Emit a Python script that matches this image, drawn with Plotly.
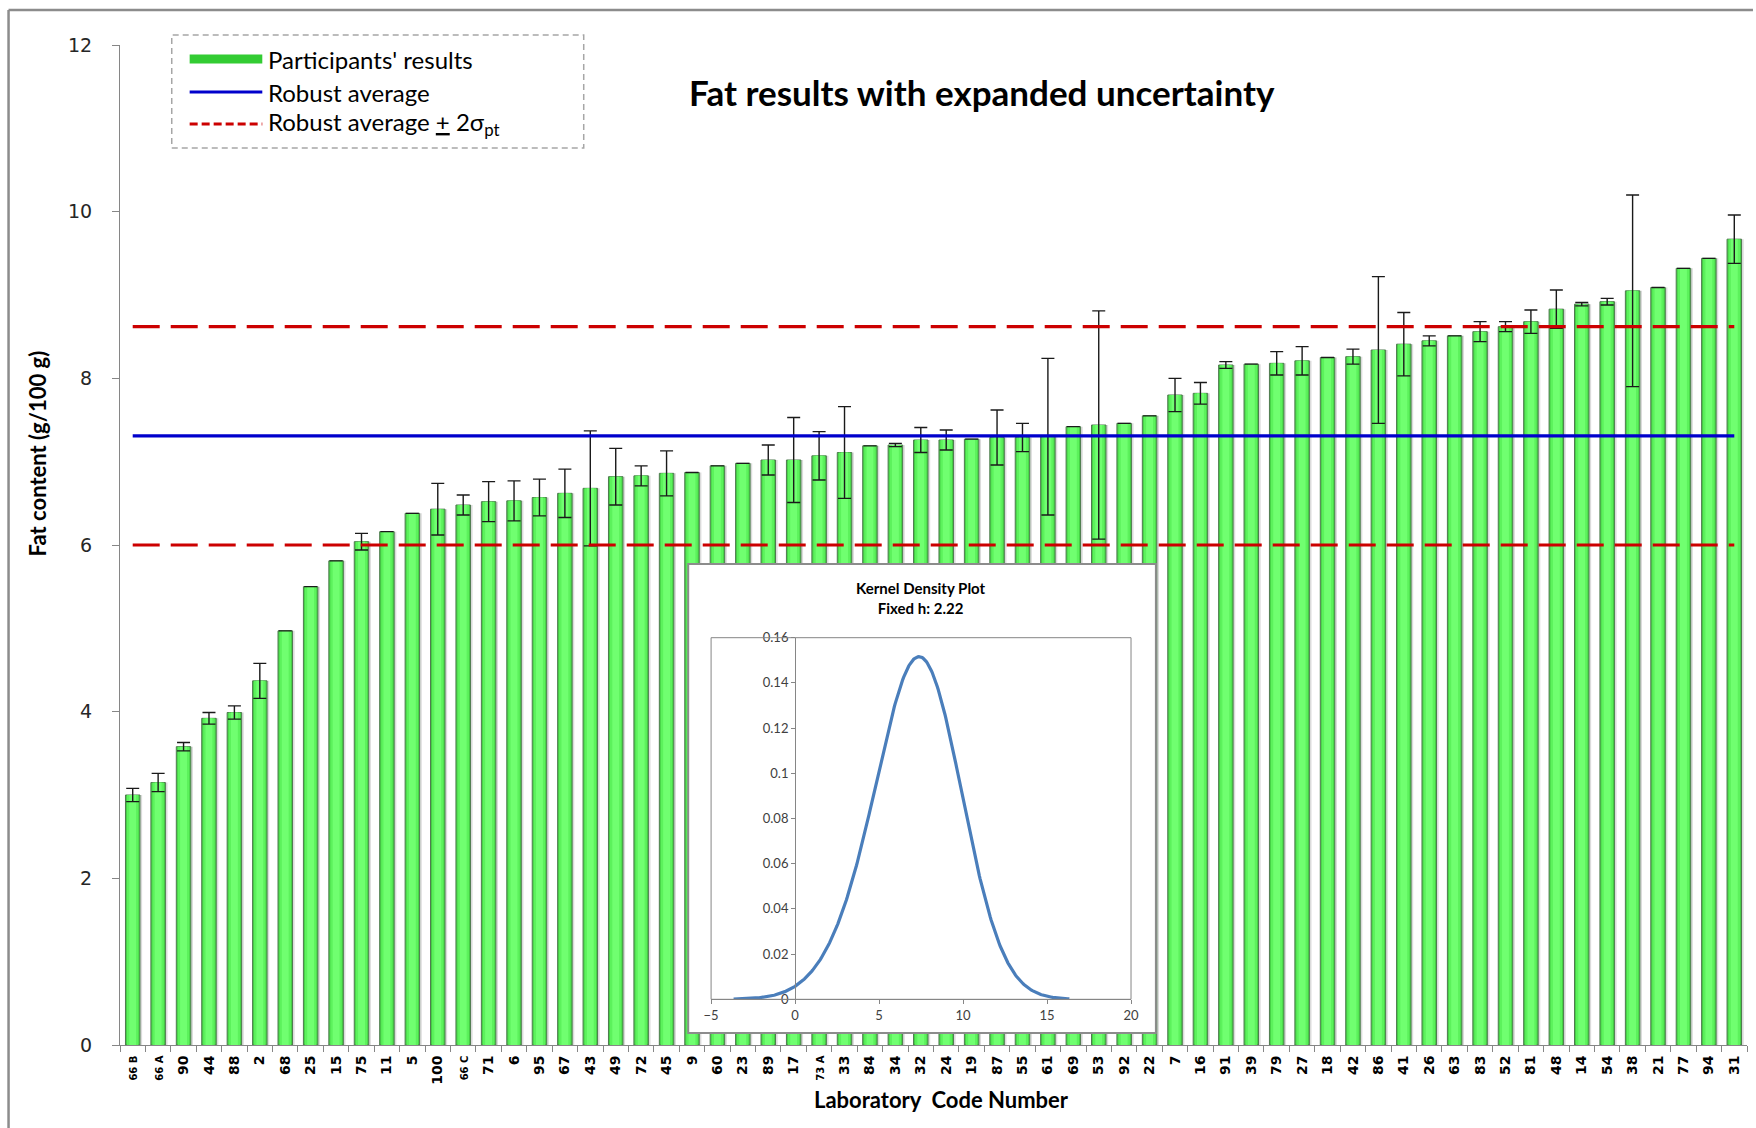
import numpy as np
import plotly.graph_objects as go

# Laboratory codes, ordered by reported result
labs = ["66 B", "66 A", "90", "44", "88", "2", "68", "25", "15", "75",
        "11", "5", "100", "66 C", "71", "6", "95", "67", "43", "49",
        "72", "45", "9", "60", "23", "89", "17", "73 A", "33", "84",
        "34", "32", "24", "19", "87", "55", "61", "69", "53", "92",
        "22", "7", "16", "91", "39", "79", "27", "18", "42", "86",
        "41", "26", "63", "83", "52", "81", "48", "14", "54", "38",
        "21", "77", "94", "31"]

# Reported fat content (g/100 g)
fat = [3.00, 3.15, 3.58, 3.92, 3.99, 4.37, 4.97, 5.50, 5.81, 6.04,
       6.16, 6.38, 6.43, 6.48, 6.52, 6.53, 6.57, 6.62, 6.68, 6.82,
       6.83, 6.86, 6.87, 6.95, 6.98, 7.02, 7.02, 7.07, 7.11, 7.19,
       7.20, 7.26, 7.26, 7.27, 7.29, 7.29, 7.30, 7.42, 7.44, 7.46,
       7.55, 7.80, 7.82, 8.16, 8.17, 8.18, 8.21, 8.25, 8.26, 8.34,
       8.41, 8.45, 8.51, 8.56, 8.62, 8.68, 8.83, 8.89, 8.92, 9.05,
       9.09, 9.32, 9.44, 9.67]

# Expanded uncertainty reported by each laboratory
unc = [0.08, 0.11, 0.05, 0.07, 0.08, 0.21, 0.00, 0.00, 0.00, 0.10,
       0.00, 0.00, 0.31, 0.12, 0.24, 0.24, 0.22, 0.29, 0.69, 0.34,
       0.12, 0.27, 0.00, 0.00, 0.00, 0.18, 0.51, 0.29, 0.55, 0.00,
       0.02, 0.15, 0.12, 0.00, 0.33, 0.17, 0.94, 0.00, 1.37, 0.00,
       0.00, 0.20, 0.13, 0.04, 0.00, 0.14, 0.17, 0.00, 0.09, 0.88,
       0.38, 0.06, 0.00, 0.12, 0.06, 0.14, 0.23, 0.02, 0.04, 1.15,
       0.00, 0.00, 0.00, 0.29]

robust_avg = 7.31
lower_limit = 6.00
upper_limit = 8.62

y_ticks = [0, 2, 4, 6, 8, 10, 12]

# kernel density of the results, fixed bandwidth
kde_h = 2.22
kde_x_ticks = [-5, 0, 5, 10, 15, 20]
kde_y_ticks = [0, 0.02, 0.04, 0.06, 0.08, 0.10, 0.12, 0.14, 0.16]
kde_y_text = ["0", "0.02", "0.04", "0.06", "0.08", "0.1", "0.12", "0.14", "0.16"]

vals = np.array(fat)
kx = np.linspace(vals.min() - 3 * kde_h, vals.max() + 3 * kde_h, 400)
kz = (kx[:, None] - vals[None, :]) / kde_h
ky = np.exp(-0.5 * kz ** 2).sum(axis=1) / (len(vals) * kde_h * np.sqrt(2 * np.pi))

# ---- page geometry (pixels) ----
W, H = 1756, 1128
L, R, T, B = 120, 1, 45, 83
PW = W - L - R
PH = H - T - B


def px(x):
    return (x - L) / PW


def py(y):
    return (H - B - y) / PH


def tick_label(s):
    if " " in s:
        return "<span style='font-size:10px'>" + s + "</span>"
    return s


n = len(labs)
fig = go.Figure()

# soft shadow to the right of each bar
fig.add_trace(go.Bar(x=labs, y=fat, width=0.56, offset=-0.19,
                     marker=dict(color="rgba(0,0,0,0.14)", line=dict(width=0)),
                     hoverinfo="skip", showlegend=False))
# bar body with darker edges
fig.add_trace(go.Bar(x=labs, y=fat, width=0.57, offset=-0.285,
                     marker=dict(color="#46d046", line=dict(color="#4f7a4f", width=1)),
                     showlegend=False, name="Participants' results"))
fig.add_trace(go.Bar(x=labs, y=fat, width=0.45, offset=-0.225,
                     marker=dict(color="#5cf25c", line=dict(width=0)),
                     hoverinfo="skip", showlegend=False))
# bright core of the bar, carrying the uncertainty bars
fig.add_trace(go.Bar(x=labs, y=fat, width=0.27, offset=-0.135,
                     marker=dict(color="#70ff70", line=dict(width=0)),
                     error_y=dict(type="data", array=unc, visible=True,
                                  color="#1a1a1a", thickness=1.4, width=6.5),
                     hoverinfo="skip", showlegend=False))

fig.add_trace(go.Scatter(x=labs, y=[robust_avg] * n, mode="lines",
                         line=dict(color="#0000cc", width=3.2),
                         showlegend=False, name="Robust average"))
fig.add_trace(go.Scatter(x=labs, y=[lower_limit] * n, mode="lines",
                         line=dict(color="#cc0000", width=3.2, dash="27px,11px"),
                         showlegend=False))
fig.add_trace(go.Scatter(x=labs, y=[upper_limit] * n, mode="lines",
                         line=dict(color="#cc0000", width=3.2, dash="27px,11px"),
                         showlegend=False))

# inset panel background and density curve
fig.add_trace(go.Scatter(x=[None], y=[None], xaxis="x2", yaxis="y2",
                         showlegend=False, hoverinfo="skip"))
fig.add_trace(go.Scatter(x=kx, y=ky, xaxis="x3", yaxis="y3", mode="lines",
                         line=dict(color="#4a7ebb", width=3.2),
                         showlegend=False, name="Kernel density"))

ins_x0, ins_x1 = px(714), px(1136)
y3_pos = ins_x0 + (0 - (-5)) / 25 * (ins_x1 - ins_x0)

fig.update_layout(
    width=W, height=H,
    margin=dict(l=L, r=R, t=T, b=B),
    paper_bgcolor="white", plot_bgcolor="white",
    barmode="overlay",
    showlegend=False,
    xaxis=dict(type="category", range=[-0.5, n - 0.5],
               tickmode="array", tickvals=labs, ticktext=[tick_label(s) for s in labs],
               tickangle=-90, tickson="boundaries", ticks="outside", ticklen=6,
               tickcolor="#868686", showline=True, linecolor="#868686", linewidth=1,
               showgrid=False, zeroline=False, ticklabelstandoff=4,
               tickfont=dict(family="DejaVu Sans", size=14, color="#000000", weight="bold")),
    yaxis=dict(range=[0, 12], tickmode="array", tickvals=y_ticks,
               ticks="outside", ticklen=7, tickcolor="#868686",
               showline=True, linecolor="#868686", linewidth=1,
               showgrid=False, zeroline=False, ticklabelstandoff=16,
               tickfont=dict(family="DejaVu Sans", size=19, color="#262626")),
    xaxis2=dict(domain=[px(691), px(1161)], anchor="y2", range=[0, 1], visible=False),
    yaxis2=dict(domain=[py(1033), py(564)], anchor="x2", range=[0, 1], visible=False),
    xaxis3=dict(domain=[ins_x0, ins_x1], anchor="y3", range=[-5, 20],
                tickmode="array", tickvals=kde_x_ticks, ticks="outside", ticklen=4,
                tickcolor="#868686", showline=True, linecolor="#868686", linewidth=1,
                showgrid=False, zeroline=False,
                tickfont=dict(family="Lato", size=13, color="#404040")),
    yaxis3=dict(domain=[py(999.3), py(637.7)], anchor="free", position=y3_pos,
                range=[0, 0.16], tickmode="array", tickvals=kde_y_ticks, ticktext=kde_y_text,
                ticks="outside", ticklen=4, tickcolor="#868686",
                showline=True, linecolor="#868686", linewidth=1,
                showgrid=False, zeroline=False,
                tickfont=dict(family="Lato", size=13, color="#404040")),
)

shapes = []
# outer frame (top and left edges)
shapes.append(dict(type="line", xref="paper", yref="paper", x0=px(8), x1=px(W + 5),
                   y0=py(10), y1=py(10), line=dict(color="#8c8c8c", width=2.5)))
shapes.append(dict(type="line", xref="paper", yref="paper", x0=px(8), x1=px(8),
                   y0=py(10), y1=py(H + 5), line=dict(color="#8c8c8c", width=2.5)))
# inset borders
shapes.append(dict(type="rect", xref="x2 domain", yref="y2 domain", x0=0, x1=1, y0=0, y1=1,
                   line=dict(color="#8c8c8c", width=2), layer="above"))
shapes.append(dict(type="rect", xref="x3 domain", yref="y3 domain", x0=0, x1=1, y0=0, y1=1,
                   line=dict(color="#868686", width=1), layer="above"))
# legend box and samples
shapes.append(dict(type="rect", xref="paper", yref="paper", x0=px(172), x1=px(586),
                   y0=py(148), y1=py(35), line=dict(color="#a6a6a6", width=1.5, dash="6px,4px"),
                   fillcolor="white", layer="above"))
shapes.append(dict(type="line", xref="paper", yref="paper", x0=px(190), x1=px(263),
                   y0=py(59), y1=py(59), line=dict(color="#33cc33", width=9), layer="above"))
shapes.append(dict(type="line", xref="paper", yref="paper", x0=px(190), x1=px(263),
                   y0=py(92), y1=py(92), line=dict(color="#0000cc", width=3), layer="above"))
shapes.append(dict(type="line", xref="paper", yref="paper", x0=px(190), x1=px(263),
                   y0=py(124), y1=py(124), line=dict(color="#cc0000", width=3, dash="8px,4px"),
                   layer="above"))
fig.update_layout(shapes=shapes)

legend_font = dict(family="Lato", size=24, color="#000000")
ann = [
    dict(text="Participants' results", x=px(267), y=py(59)),
    dict(text="Robust average", x=px(267), y=py(92)),
    dict(text="Robust average <u>+</u> 2σ<sub>pt</sub>", x=px(267), y=py(124)),
]
for a in ann:
    a.update(xref="paper", yref="paper", xanchor="left", yanchor="middle",
             showarrow=False, font=legend_font)

ann.append(dict(text="<b>Fat results with expanded uncertainty</b>", x=px(986), y=py(92),
                xref="paper", yref="paper", xanchor="center", yanchor="middle",
                showarrow=False, font=dict(family="Lato", size=35, color="#000000")))
ann.append(dict(text="<b>Fat content (g/100 g)</b>", x=px(37), y=py(453), textangle=-90,
                xref="paper", yref="paper", xanchor="center", yanchor="middle",
                showarrow=False, font=dict(family="Lato", size=22, color="#000000")))
ann.append(dict(text="<b>Laboratory  Code Number</b>", x=px(946), y=py(1099),
                xref="paper", yref="paper", xanchor="center", yanchor="middle",
                showarrow=False, font=dict(family="Lato", size=22, color="#000000")))
ann.append(dict(text="<b>Kernel Density Plot<br>Fixed h: 2.22</b>", x=px(925), y=py(598),
                xref="paper", yref="paper", xanchor="center", yanchor="middle",
                showarrow=False, font=dict(family="Lato", size=15, color="#000000")))
fig.update_layout(annotations=ann)

fig.write_html("out.html")
